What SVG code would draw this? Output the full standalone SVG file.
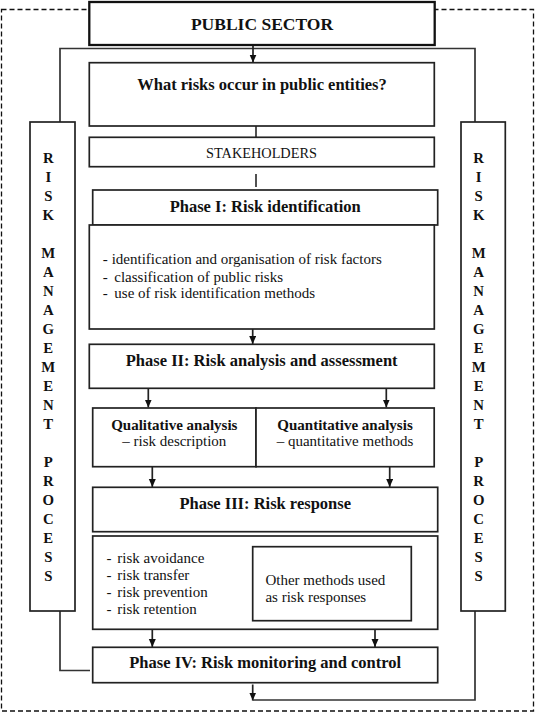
<svg xmlns="http://www.w3.org/2000/svg" width="537" height="713" viewBox="0 0 537 713">
<style>
.box{fill:#fff;stroke:#222;stroke-width:1.7}
.pbox{fill:#fff;stroke:#111;stroke-width:2.3}
.ln{fill:none;stroke:#333;stroke-width:1.7}
.ar{fill:none;stroke:#222;stroke-width:1.7;marker-end:url(#ah)}
.dash{fill:none;stroke:#111;stroke-width:1.3;stroke-dasharray:5 3}
text{font-family:"Liberation Serif","Times New Roman",serif;fill:#111}
.b{font-weight:bold}
.h{font-size:16.5px;font-weight:bold;text-anchor:middle}
.t{font-size:15px}
.c{text-anchor:middle}
.v{font-size:14.8px;font-weight:bold;text-anchor:middle}
</style>
<defs>
<marker id="ah" markerWidth="9" markerHeight="8" refX="8" refY="3.5" orient="auto" markerUnits="userSpaceOnUse">
<path d="M0,0 L8,3.5 L0,7 z" fill="#111"/>
</marker>
</defs>
<rect class="dash" x="1.5" y="9.5" width="532" height="701.5"/>
<g id="connectors">
<polyline class="ln" points="60,122 60,48.5 475,48.5 475,122"/>
<path class="ar" d="M253,45 V62.5"/>
<path class="ln" d="M256,126 V137"/>
<path class="ln" d="M256,174 V187"/>
<path class="ar" d="M252.7,329 V344"/>
<path class="ar" d="M148.3,388.5 V407.5"/>
<path class="ar" d="M386.3,388.5 V407.5"/>
<path class="ar" d="M152.3,467 V487"/>
<path class="ar" d="M389.7,467 V487"/>
<path class="ar" d="M152.3,629.5 V647"/>
<path class="ar" d="M375,629.5 V647"/>
<polyline class="ln" points="60,611 60,670.5 90,670.5"/>
<path class="ar" d="M252.7,684.5 V700.5"/>
<polyline class="ln" points="252.7,700 475,700 475,611"/>
</g>
<g id="public-sector">
<rect class="pbox" x="89.3" y="2" width="345.4" height="43"/>
<text class="b c" x="262" y="29.5" font-size="17.5">PUBLIC SECTOR</text>
</g>
<g id="what-risks">
<rect class="box" x="89.3" y="62.7" width="345" height="63.3"/>
<text class="h" x="262" y="89.5">What risks occur in public entities?</text>
</g>
<g id="stakeholders">
<rect class="box" x="89.3" y="137.3" width="345" height="29.4"/>
<text class="c" x="261.5" y="157.5" font-size="14.3">STAKEHOLDERS</text>
</g>
<g id="phase1">
<rect class="box" x="92.7" y="190" width="345" height="35"/>
<text class="h" x="265.2" y="212.3">Phase I: Risk identification</text>
</g>
<g id="phase1-details">
<rect class="box" x="89.3" y="225" width="345" height="104"/>
<text class="t" y="264.3"><tspan x="102.7">-</tspan><tspan x="111.7">identification and organisation of risk factors</tspan></text>
<text class="t" y="281.7"><tspan x="102.7">-</tspan><tspan x="114.3">classification of public risks</tspan></text>
<text class="t" y="298.3"><tspan x="102.7">-</tspan><tspan x="114.3">use of risk identification methods</tspan></text>
</g>
<g id="phase2">
<rect class="box" x="89.3" y="344.3" width="345" height="44"/>
<text class="h" x="261.7" y="365.7">Phase II: Risk analysis and assessment</text>
</g>
<g id="qualitative">
<rect class="box" x="92.7" y="408" width="163.3" height="58.7"/>
<text class="b c" x="174.3" y="430" font-size="15">Qualitative analysis</text>
<text class="t c" x="174.3" y="446">– risk description</text>
</g>
<g id="quantitative">
<rect class="box" x="256" y="408" width="178.2" height="58.7"/>
<text class="b c" x="345" y="430" font-size="15">Quantitative analysis</text>
<text class="t c" x="345" y="446">– quantitative methods</text>
</g>
<g id="phase3">
<rect class="box" x="92.7" y="487.3" width="345" height="44.4"/>
<text class="h" x="265.2" y="509">Phase III: Risk response</text>
</g>
<g id="phase3-details">
<rect class="box" x="92.7" y="536" width="345" height="93.3"/>
<text class="t" y="563.3"><tspan x="106.5">-</tspan><tspan x="117.3">risk avoidance</tspan></text>
<text class="t" y="580"><tspan x="106.5">-</tspan><tspan x="117.3">risk transfer</tspan></text>
<text class="t" y="597.3"><tspan x="106.5">-</tspan><tspan x="117.3">risk prevention</tspan></text>
<text class="t" y="614"><tspan x="106.5">-</tspan><tspan x="117.3">risk retention</tspan></text>
</g>
<g id="other-methods">
<rect class="box" x="252.7" y="546.7" width="158.6" height="74"/>
<text class="t" x="265.4" y="585">Other methods used</text>
<text class="t" x="265.4" y="602">as risk responses</text>
</g>
<g id="phase4">
<rect class="box" x="92.7" y="647.3" width="345" height="35.4"/>
<text class="h" x="265.2" y="668.3">Phase IV: Risk monitoring and control</text>
</g>
<g id="side-left">
<rect class="box" x="30" y="122" width="45" height="489"/>
<text class="v" x="48.3"><tspan x="48.3" y="163">R</tspan><tspan x="48.3" y="182">I</tspan><tspan x="48.3" y="201">S</tspan><tspan x="48.3" y="220">K</tspan><tspan x="48.3" y="258">M</tspan><tspan x="48.3" y="277">A</tspan><tspan x="48.3" y="296">N</tspan><tspan x="48.3" y="315">A</tspan><tspan x="48.3" y="334">G</tspan><tspan x="48.3" y="353">E</tspan><tspan x="48.3" y="372">M</tspan><tspan x="48.3" y="391">E</tspan><tspan x="48.3" y="410">N</tspan><tspan x="48.3" y="429">T</tspan><tspan x="48.3" y="467">P</tspan><tspan x="48.3" y="486">R</tspan><tspan x="48.3" y="505">O</tspan><tspan x="48.3" y="524">C</tspan><tspan x="48.3" y="543">E</tspan><tspan x="48.3" y="562">S</tspan><tspan x="48.3" y="581">S</tspan></text>
</g>
<g id="side-right">
<rect class="box" x="461" y="122" width="44.3" height="489"/>
<text class="v" x="478.7"><tspan x="478.7" y="163">R</tspan><tspan x="478.7" y="182">I</tspan><tspan x="478.7" y="201">S</tspan><tspan x="478.7" y="220">K</tspan><tspan x="478.7" y="258">M</tspan><tspan x="478.7" y="277">A</tspan><tspan x="478.7" y="296">N</tspan><tspan x="478.7" y="315">A</tspan><tspan x="478.7" y="334">G</tspan><tspan x="478.7" y="353">E</tspan><tspan x="478.7" y="372">M</tspan><tspan x="478.7" y="391">E</tspan><tspan x="478.7" y="410">N</tspan><tspan x="478.7" y="429">T</tspan><tspan x="478.7" y="467">P</tspan><tspan x="478.7" y="486">R</tspan><tspan x="478.7" y="505">O</tspan><tspan x="478.7" y="524">C</tspan><tspan x="478.7" y="543">E</tspan><tspan x="478.7" y="562">S</tspan><tspan x="478.7" y="581">S</tspan></text>
</g>
</svg>
